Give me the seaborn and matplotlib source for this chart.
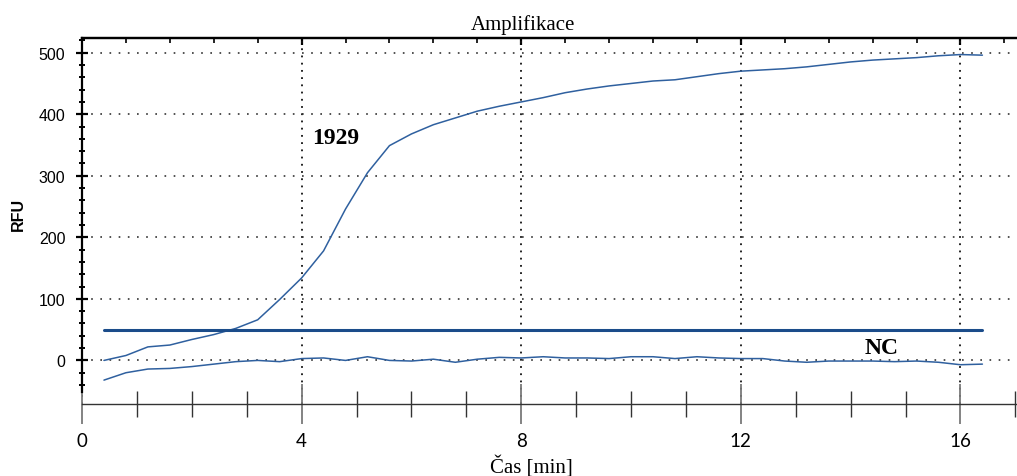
import numpy as np
import pandas as pd
import matplotlib
matplotlib.use("Agg")
import matplotlib.pyplot as plt
from matplotlib.ticker import FixedLocator, MultipleLocator
import seaborn as sns

# Measurement times (min), one reading every 0.4 min
time_min = [0.4, 0.8, 1.2, 1.6, 2.0, 2.4, 2.8, 3.2, 3.6, 4.0, 4.4, 4.8, 5.2, 5.6,
            6.0, 6.4, 6.8, 7.2, 7.6, 8.0, 8.4, 8.8, 9.2, 9.6, 10.0, 10.4, 10.8,
            11.2, 11.6, 12.0, 12.4, 12.8, 13.2, 13.6, 14.0, 14.4, 14.8, 15.2,
            15.6, 16.0, 16.4]

# Fluorescence of sample 1929
rfu_1929 = [0, 8, 22, 25, 34, 42, 52, 66, 99, 134, 178, 246, 305, 349,
            368, 383, 394, 405, 413, 420, 427, 435, 441, 446, 450, 454, 456,
            461, 466, 470, 472, 474, 477, 481, 485, 488, 490, 492,
            495, 497, 496]

# Fluorescence of the negative control
rfu_nc = [-32, -20, -14, -13, -10, -6, -2, 0, -2, 3, 4, 0, 6, 0,
          -1, 2, -3, 2, 5, 4, 6, 4, 4, 3, 6, 6, 3,
          6, 4, 3, 3, -1, -3, -1, -1, -1, -2, -1,
          -3, -7, -6]

threshold_rfu = 50

x_major = [0, 4, 8, 12, 16]
y_major = [0, 100, 200, 300, 400, 500]

sample_names = ["1929", "NC"]

sns.set_style("white")
plt.rcParams["font.family"] = ["Liberation Sans", "DejaVu Sans"]
plt.rcParams["text.color"] = "black"
plt.rcParams["axes.labelcolor"] = "black"

W, H = 1017, 477
fig = plt.figure(figsize=(W / 100, H / 100), dpi=100)
ax = fig.add_axes([82 / W, 1 - 405 / H, 1 - 82 / W, (405 - 39.3) / H])

curves = pd.DataFrame({
    "cas": time_min * 2,
    "rfu": rfu_1929 + rfu_nc,
    "vzorek": [sample_names[0]] * len(time_min) + [sample_names[1]] * len(time_min),
})

curve_color = "#2f609f"
sns.lineplot(data=curves, x="cas", y="rfu", units="vzorek", estimator=None,
             color=curve_color, lw=1.1, ax=ax, legend=False, sort=False)

# Threshold line
sns.lineplot(x=time_min, y=[threshold_rfu] * len(time_min), color="#1b4c8a",
             lw=2.2, ax=ax, legend=False)

ax.set_xlim(0, 17.03)
ax.set_ylim(-70.8, 523.4)
ax.set_xlabel("")
ax.set_ylabel("")

# Spines
for side in ["top", "left"]:
    ax.spines[side].set_color("black")
    ax.spines[side].set_linewidth(1.6)
ax.spines["right"].set_visible(False)
ax.spines["bottom"].set_color("#333333")
ax.spines["bottom"].set_linewidth(1.0)
ax.spines["left"].set_bounds(-52, 523.4)

# Ticks
ax.xaxis.set_major_locator(FixedLocator(x_major))
ax.xaxis.set_minor_locator(MultipleLocator(1))
ax.yaxis.set_major_locator(FixedLocator(y_major))
ax.yaxis.set_minor_locator(FixedLocator(list(range(-40, 521, 20))))

ax.tick_params(axis="x", which="major", direction="inout", length=29, width=1.3,
               color="#7a7a7a", pad=6, labelsize=13.5, labelfontfamily="Lato",
               labelcolor="black")
ax.tick_params(axis="x", which="minor", direction="inout", length=19, width=1.0,
               color="#333333")
ax.tick_params(axis="y", which="major", direction="inout", length=8, width=1.6,
               color="black", pad=8, labelsize=11.5, labelcolor="black")
ax.tick_params(axis="y", which="minor", direction="inout", length=5, width=1.4,
               color="black")
ax.tick_params(axis="both", left=True, bottom=True)
ax.tick_params(axis="both", which="minor", left=True, bottom=True)

# Top axis ticks
secax = ax.secondary_xaxis("top")
secax.xaxis.set_major_locator(FixedLocator(x_major[1:]))
secax.xaxis.set_minor_locator(MultipleLocator(0.8))
secax.tick_params(which="major", direction="in", length=5, width=1.6,
                  color="black", labeltop=False)
secax.tick_params(which="minor", direction="in", length=3.5, width=1.2,
                  color="black")
secax.spines["top"].set_linewidth(1.6)
secax.spines["top"].set_color("black")

# Dotted grid
ax.xaxis.grid(True, which="major", linestyle=(0, (1, 3)), color="#111111", lw=1.3)
ax.yaxis.grid(True, which="major", linestyle=(0, (1, 4.5)), color="#333333", lw=1.2)
ax.set_axisbelow(True)

serif = ["Liberation Serif", "DejaVu Serif"]
ax.text(4.2, 363, sample_names[0], fontsize=17, fontweight="bold",
        family=serif, ha="left", va="center", color="black")
ax.text(14.56, 21, sample_names[1], fontsize=17, fontweight="bold",
        family=serif, ha="center", va="center", color="black")

fig.text(523 / W, 1 - 30 / H, "Amplifikace", ha="center", va="baseline",
         fontsize=15, family=serif, color="black")
fig.text(531 / W, 3 / H, "Čas [min]", ha="center", va="baseline",
         fontsize=15, family=serif, color="black")
fig.text(18 / W, 1 - 214 / H, "RFU", rotation=90, ha="center", va="center",
         fontsize=11.5, fontweight="bold", color="black")

fig.savefig("out.png", dpi=100)
